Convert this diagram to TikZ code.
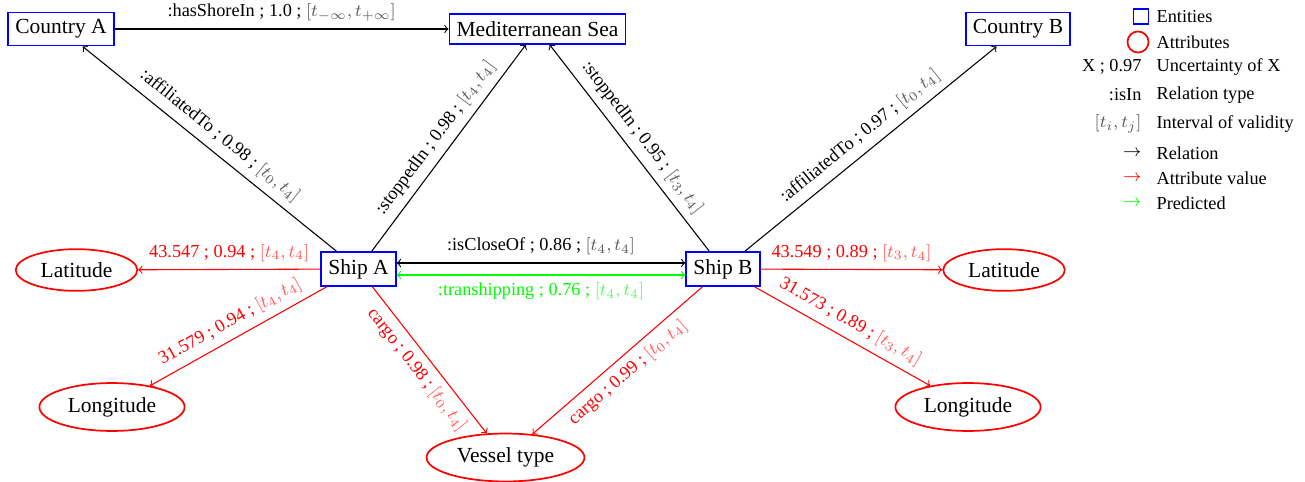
\documentclass[tikz,border=0pt]{standalone}
\usepackage[no-math]{fontspec}
\setmainfont{Liberation Serif}
\usetikzlibrary{shapes.geometric}
\newcommand{\iv}[1]{{\color{.!65}$#1$}}
\begin{document}
\begin{tikzpicture}[x=0.4651pt,y=-0.4651pt,
  ent/.style={draw=blue, thick, fill=white, font=\fontsize{10}{12}\selectfont},
  attr/.style={draw=red, thick, ellipse, fill=white, font=\fontsize{10}{12}\selectfont},
  rel/.style={->, black, line width=0.5pt},
  av/.style={->, red, line width=0.5pt},
  lbl/.style={font=\fontsize{8.5}{10}\selectfont, sloped},
  rlbl/.style={lbl, text=red},
  leg/.style={font=\fontsize{8.5}{10}\selectfont},
  ]
\useasboundingbox (0,0) rectangle (1305,482);
% entities
\node[ent] (CA) at (61,29) {Country A};
\node[ent] (Med) at (537.5,29) {Mediterranean Sea};
\node[ent] (CB) at (1018,29) {Country B};
\node[ent] (SA) at (358.5,269) {Ship A};
\node[ent] (SB) at (723,269) {Ship B};
% attributes
\node[attr] (LatA) at (76.5,270) {Latitude};
\node[attr] (LonA) at (112,407) {Longitude};
\node[attr] (VT) at (505.5,457.5) {Vessel type};
\node[attr] (LatB) at (1004,270) {Latitude};
\node[attr] (LonB) at (968,407) {Longitude};
% relations
\draw[rel] (CA) -- node[lbl, above] {:hasShoreIn ; 1.0 ; \iv{[t_{-\infty}, t_{+\infty}]}} (Med);
\draw[rel] (SA) -- node[lbl, above] {:affiliatedTo ; 0.98 ; \iv{[t_0, t_4]}} (CA);
\draw[rel] (SA) -- node[lbl, above] {:stoppedIn ; 0.98 ; \iv{[t_4, t_4]}} (Med);
\draw[rel] (SB) -- node[lbl, above] {:stoppedIn ; 0.95 ; \iv{[t_3, t_4]}} (Med);
\draw[rel] (SB) -- node[lbl, above] {:affiliatedTo ; 0.97 ; \iv{[t_0, t_4]}} (CB);
\draw[<->, black, line width=0.5pt] ([yshift=2.8pt]SA.east) -- node[lbl, above] {:isCloseOf ; 0.86 ; \iv{[t_4, t_4]}} ([yshift=2.8pt]SB.west);
\draw[<->, green, line width=0.5pt] ([yshift=-2.8pt]SA.east) -- node[lbl, below, text=green] {:transhipping ; 0.76 ; \iv{[t_4, t_4]}} ([yshift=-2.8pt]SB.west);
% attribute values
\draw[av] (SA) -- node[rlbl, above] {43.547 ; 0.94 ; \iv{[t_4, t_4]}} (LatA);
\draw[av] (SA) -- node[rlbl, above] {31.579 ; 0.94 ; \iv{[t_4, t_4]}} (LonA);
\draw[av] (SA) -- node[rlbl, below] {cargo ; 0.98 ; \iv{[t_0, t_4]}} (VT);
\draw[av] (SB) -- node[rlbl, below] {cargo ; 0.99 ; \iv{[t_0, t_4]}} (VT);
\draw[av] (SB) -- node[rlbl, above] {43.549 ; 0.89 ; \iv{[t_3, t_4]}} (LatB);
\draw[av] (SB) -- node[rlbl, above] {31.573 ; 0.89 ; \iv{[t_3, t_4]}} (LonB);
% legend
\node[draw=blue, thick, minimum size=7pt, inner sep=0pt] (lgE) at (1141,16.5) {};
\node[draw=red, thick, circle, minimum size=9.8pt, inner sep=0pt] (lgA) at (1138,42) {};
\node[leg, anchor=west] (lgEt) at (1149,17) {Entities};
\node[leg, anchor=west] (lgAt) at (1149,42) {Attributes};
\node[leg, anchor=east] (lgUs) at (1149,67) {X ; 0.97};
\node[leg, anchor=west] (lgUt) at (1149,67) {Uncertainty of X};
\node[leg, anchor=east] (lgRs) at (1149,95) {:isIn};
\node[leg, anchor=west] (lgRt) at (1149,95) {Relation type};
\node[leg, anchor=east] (lgIs) at (1149,124) {\iv{[t_i, t_j]}};
\node[leg, anchor=west] (lgIt) at (1149,124) {Interval of validity};
\node[leg, anchor=east] (lgR1) at (1149,153) {$\rightarrow$};
\node[leg, anchor=west] (lgR1t) at (1149,153) {Relation};
\node[leg, anchor=east, text=red] (lgR2) at (1149,178) {$\rightarrow$};
\node[leg, anchor=west] (lgR2t) at (1149,178) {Attribute value};
\node[leg, anchor=east, text=green] (lgR3) at (1149,203) {$\rightarrow$};
\node[leg, anchor=west] (lgR3t) at (1149,203) {Predicted};
\end{tikzpicture}
\end{document}
